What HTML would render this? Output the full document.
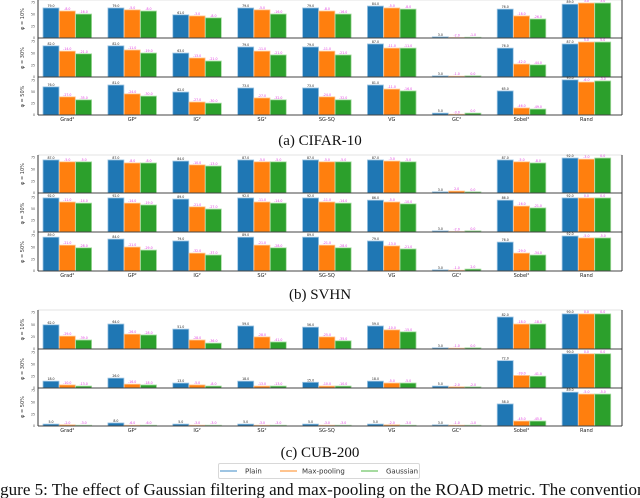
<!DOCTYPE html>
<html><head><meta charset="utf-8">
<style>
html,body{margin:0;padding:0;background:#fff;width:640px;height:498px;overflow:hidden;}
svg{display:block;}
</style></head>
<body>
<svg id="fig" width="640" height="498" viewBox="0 0 640 498" xmlns="http://www.w3.org/2000/svg"></svg>
<script>
const categories = ["Grad\u00b2","GP\u00b2","IG\u00b2","SG\u00b2","SG-SQ","VG","GC\u00b2","Sobel\u00b2","Rand"];
const rowLabels = ["\u03c6 = 10%","\u03c6 = 30%","\u03c6 = 50%"];
const seriesNames = ["Plain","Max-pooling","Gaussian"];
// values as % of row axis height
const plainA = [[79,79,61,79,79,84,3,76,89],[82,82,63,79,79,87,3,76,87],[76,81,62,73,73,81,5,65,95]];
const maxA   = [[71,74,58,74,71,79,1,58,92],[68,71,50,68,68,76,2,34,92],[49,57,35,46,49,70,2,19,89]];
const gaussA = [[63,71,53,63,63,76,2,50,92],[61,63,42,58,58,76,3,32,92],[41,51,32,41,41,65,5,16,92]];
const plainB = [[87,87,84,87,87,87,3,87,92],[92,92,89,92,92,86,3,86,92],[89,84,79,89,89,79,3,76,92]];
const maxB   = [[82,79,74,82,82,84,5,82,89],[81,78,68,81,81,81,1,70,92],[68,63,47,68,68,66,2,47,87]];
const gaussB = [[82,79,71,82,82,82,3,79,92],[78,73,62,78,78,76,3,65,92],[61,55,42,61,61,58,5,42,87]];
const plainC = [[62,64,51,59,56,59,3,82,90],[18,26,13,18,15,18,5,72,90],[5,8,5,5,5,5,3,58,89]];
const maxC   = [[33,38,23,31,31,49,2,64,90],[8,10,8,5,5,13,3,33,90],[3,2,2,2,2,3,2,13,84]];
const gaussC = [[23,36,15,18,21,44,3,64,90],[5,8,5,5,5,13,3,31,90],[2,2,2,2,2,2,2,13,84]];
const yTickLabels = ["0","25","50","75"];

const NS="http://www.w3.org/2000/svg";
const svg=document.getElementById('fig');
function mk(tag,attrs,parent){const e=document.createElementNS(NS,tag);for(const k in attrs)e.setAttribute(k,attrs[k]);(parent||svg).appendChild(e);return e;}
const colors=["#1f77b4","#ff7f0e","#2ca02c"];
const edges=["#9ec5e3","#ffc48f","#a6dba0"];
const X0=38,X1=622;
const groupW=(X1-X0)/categories.length;
function xBar(g,s){return X0+5+g*groupW+s*16.3;}

const panels=[
 {name:"cifar10",data:[plainA,maxA,gaussA],top:0,rows:[[0,38],[39,77],[78,115]],labY:121,cap:"(a) CIFAR-10",capY:145},
 {name:"svhn",data:[plainB,maxB,gaussB],top:155,rows:[[155,193],[195,232],[233,271]],labY:277,cap:"(b) SVHN",capY:299},
 {name:"cub200",data:[plainC,maxC,gaussC],top:310,rows:[[310,349],[350,388],[388,426]],labY:432,cap:"(c) CUB-200",capY:457}
];
panels.forEach(p=>{
  const g=mk('g',{});
  
  
  const last=p.rows[2][1];
  const tl=mk('line',{x1:X0,y1:p.top,x2:X1,y2:p.top,stroke:"#e3e3e3","stroke-width":1},g);
  
  
  p.rows.forEach((r,ri)=>{
    const [t,b]=r; const h=b-t;
    const rg=mk('g',{},g);
    
    
    const yl=mk('text',{x:0,y:0,transform:`translate(24,${(t+b)/2}) rotate(-90)`,"text-anchor":"middle","font-size":"5","font-family":"DejaVu Sans, sans-serif",fill:"#333"},rg);
    yl.textContent=rowLabels[ri];
    
    
    yTickLabels.forEach((tk,ti)=>{
      const yy=b-(ti/ (yTickLabels.length-0.8))*h;
      const tt=mk('text',{x:35,y:yy+1.2,"text-anchor":"end","font-size":"3.2","font-family":"DejaVu Sans, sans-serif",fill:"#444"},rg);
      tt.textContent=tk;
      
      
    });
    for(let gi=0;gi<categories.length;gi++){
      for(let s=0;s<3;s++){
        const v=p.data[s][ri][gi];
        const bh=v/100*h;
        const x=xBar(gi,s);
        const rc=mk('rect',{x:x,y:b-bh,width:16,height:bh,fill:colors[s],stroke:edges[s],"stroke-width":0.8},rg);
        
        
        const lt=mk('text',{x:x+8,y:b-bh-1,"text-anchor":"middle","font-size":"3.2","font-family":"DejaVu Sans, sans-serif",fill:s===0?"#222":"#e040e0"},rg);
        lt.textContent=s===0?v.toFixed(1):(v-p.data[0][ri][gi]).toFixed(1);
        
        
      }
    }
    const bl=mk('line',{x1:X0,y1:b,x2:X1,y2:b,stroke:"#444","stroke-width":1},rg);
    
    
  });
  const la=mk('line',{x1:X0,y1:p.top,x2:X0,y2:last,stroke:"#333","stroke-width":1},g);
  
  
  const ra=mk('line',{x1:X1,y1:p.top,x2:X1,y2:last,stroke:"#333","stroke-width":1},g);
  
  
  categories.forEach((c,gi)=>{
    const t=mk('text',{x:xBar(gi,1)+8,y:p.labY,"text-anchor":"middle","font-size":"5","font-family":"DejaVu Sans, sans-serif",fill:"#222"},g);
    t.textContent=c;
    
    
  });
  const cp=mk('text',{x:320,y:p.capY,"text-anchor":"middle","font-size":"15","font-family":"Liberation Serif, serif",fill:"#111"},g);
  cp.textContent=p.cap;
  
  
});
// legend
const lg=mk('g',{});


const lb=mk('rect',{x:218.5,y:463.5,width:201,height:15,rx:1.5,fill:"#fff",stroke:"#d8d8d8","stroke-width":1},lg);


const legX=[[220,245],[280,302],[361,386]];
seriesNames.forEach((n,i)=>{
  const e=mk('g',{},lg);
  
  
  mk('line',{x1:legX[i][0],y1:471,x2:legX[i][0]+17,y2:471,stroke:edges[i],"stroke-width":2},e);
  const t=mk('text',{x:legX[i][1],y:473.5,"font-size":"7","font-family":"DejaVu Sans, sans-serif",fill:"#333"},e);
  t.textContent=n;
});
const fc=mk('text',{x:-14,y:495,"font-size":"17","font-family":"Liberation Serif, serif",fill:"#111"});
fc.textContent="Figure 5: The effect of Gaussian filtering and max-pooling on the ROAD metric. The conventional";


</script>
</body></html>
